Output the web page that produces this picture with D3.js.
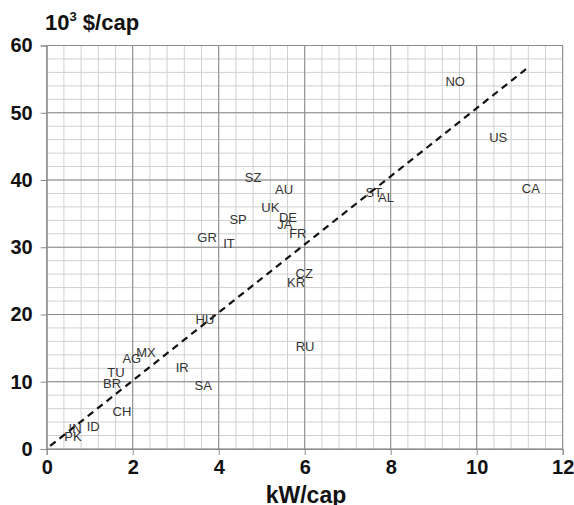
<!DOCTYPE html>
<html>
<head>
<meta charset="utf-8">
<script src="https://cdn.jsdelivr.net/npm/d3@7"></script>
<style>
  body { margin: 0; background: #fff; }
  text { font-family: "Liberation Sans", Arial, sans-serif; }
</style>
</head>
<body>
<svg id="chart" width="574" height="505"></svg>
<script>
// country labels, energy use (kW/cap) and GDP (10^3 $/cap)
var countries = ["NO","US","CA","ST","AL","SZ","AU","UK","DE","JA","FR","SP","GR","IT","CZ","KR","RU","HU","MX","AG","TU","BR","IR","SA","CH","ID","IN","PK"];
var kwCap  = [9.50,10.50,11.26,7.61,7.89,4.80,5.52,5.20,5.61,5.54,5.84,4.45,3.73,4.24,5.99,5.80,6.01,3.68,2.31,1.98,1.61,1.52,3.15,3.64,1.75,1.08,0.66,0.61];
var gdpCap = [54.6,46.3,38.8,38.2,37.4,40.4,38.6,35.9,34.5,33.4,32.1,34.2,31.5,30.6,26.1,24.8,15.3,19.2,14.3,13.4,11.4,9.7,12.2,9.4,5.6,3.3,3.0,1.8];

// dashed fit line end points
var trendX = [0.08, 11.17];
var trendY = [0.45, 56.6];

var xTicks = [0, 2, 4, 6, 8, 10, 12];
var yTicks = [0, 10, 20, 30, 40, 50, 60];

var margin = {top: 45.5, left: 46.7, right: 11.3, bottom: 56};
var width = 574, height = 505;

var svg = d3.select("#chart");

var x = d3.scaleLinear()
    .domain([0, 12])
    .range([margin.left, width - margin.right]);

var y = d3.scaleLinear()
    .domain([0, 60])
    .range([height - margin.bottom, margin.top]);

/* minor grid */
var g = svg.append("g");
g.selectAll("line.vminor")
    .data(d3.range(0, 12.001, 0.4))
    .enter().append("line")
    .attr("x1", d => x(d)).attr("x2", d => x(d))
    .attr("y1", y(0)).attr("y2", y(60))
    .attr("stroke", "#d0d0d0").attr("stroke-width", 1);
g.selectAll("line.hminor")
    .data(d3.range(0, 60.001, 2))
    .enter().append("line")
    .attr("x1", x(0)).attr("x2", x(12))
    .attr("y1", d => y(d)).attr("y2", d => y(d))
    .attr("stroke", "#d0d0d0").attr("stroke-width", 1);

/* major grid */
g.selectAll("line.vmajor")
    .data(xTicks)
    .enter().append("line")
    .attr("x1", d => x(d)).attr("x2", d => x(d))
    .attr("y1", y(0)).attr("y2", y(60))
    .attr("stroke", "#8a8a8a").attr("stroke-width", 1);
g.selectAll("line.hmajor")
    .data(yTicks)
    .enter().append("line")
    .attr("x1", x(0)).attr("x2", x(12))
    .attr("y1", d => y(d)).attr("y2", d => y(d))
    .attr("stroke", "#8a8a8a").attr("stroke-width", 1);

/* axes */
var xAxis = svg.append("g")
    .attr("transform", "translate(0," + y(0) + ")")
    .call(d3.axisBottom(x).tickValues(xTicks).tickSize(6).tickPadding(5));
var yAxis = svg.append("g")
    .attr("transform", "translate(" + x(0) + ",0)")
    .call(d3.axisLeft(y).tickValues(yTicks).tickSize(6).tickPadding(8));
[xAxis, yAxis].forEach(function(a) {
    a.select(".domain").attr("stroke", "#8a8a8a");
    a.selectAll(".tick line").attr("stroke", "#8a8a8a");
    a.selectAll(".tick text")
        .attr("fill", "#111")
        .style("font-size", "20px")
        .style("font-weight", "bold");
});

/* trend line */
svg.append("line")
    .attr("x1", x(trendX[0])).attr("y1", y(trendY[0]))
    .attr("x2", x(trendX[1])).attr("y2", y(trendY[1]))
    .attr("stroke", "#111")
    .attr("stroke-width", 2.2)
    .attr("stroke-dasharray", "7,5");

/* country labels */
svg.selectAll("text.country")
    .data(countries)
    .enter().append("text")
    .attr("class", "country")
    .attr("x", (d, i) => x(kwCap[i]))
    .attr("y", (d, i) => y(gdpCap[i]))
    .attr("dy", "0.35em")
    .attr("text-anchor", "middle")
    .attr("fill", "#333")
    .style("font-size", "13px")
    .text(d => d);

/* axis titles */
var yt = svg.append("text")
    .attr("x", 45).attr("y", 30)
    .attr("fill", "#111")
    .style("font-size", "22px")
    .style("font-weight", "bold");
yt.append("tspan").text("10");
yt.append("tspan").attr("dy", -9).style("font-size", "13px").text("3");
yt.append("tspan").attr("dy", 9).text(" $/cap");

svg.append("text")
    .attr("x", 306).attr("y", 503)
    .attr("text-anchor", "middle")
    .attr("fill", "#111")
    .style("font-size", "23px")
    .style("font-weight", "bold")
    .text("kW/cap");
</script>
</body>
</html>
